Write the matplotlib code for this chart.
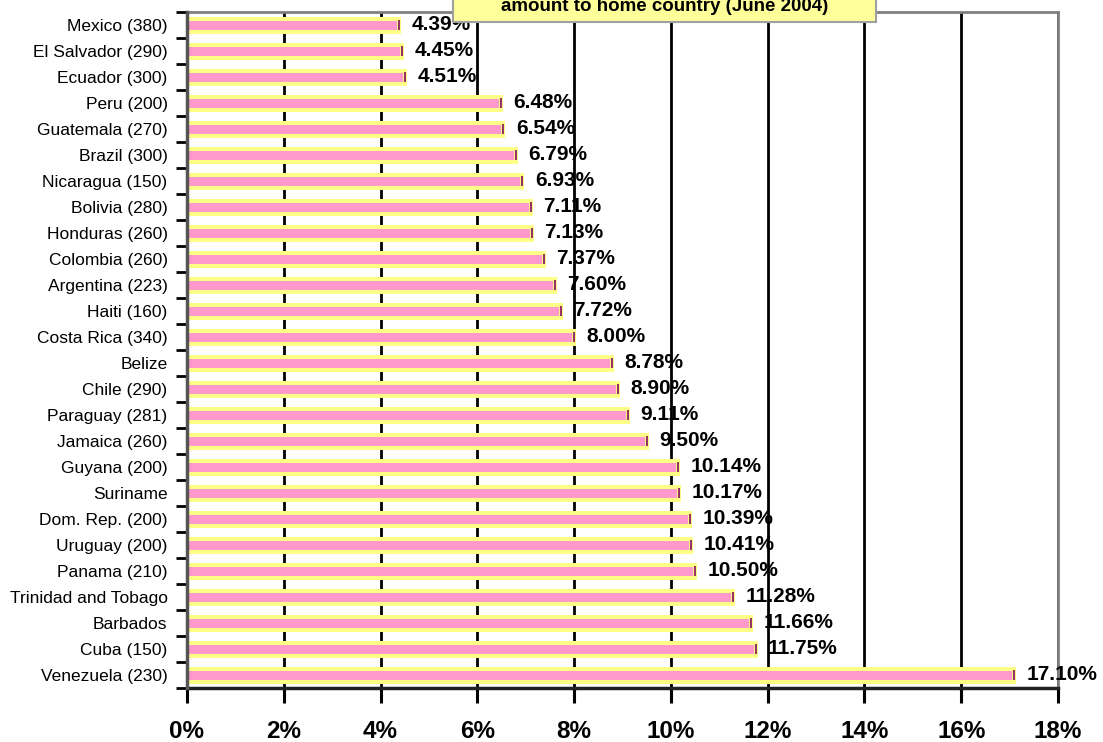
import matplotlib
matplotlib.use("Agg")
import matplotlib.pyplot as plt
from matplotlib.patches import Rectangle
from matplotlib.ticker import FixedLocator, FuncFormatter
import numpy as np

plt.rcParams['font.family'] = ['Liberation Sans', 'DejaVu Sans']

countries = ["Mexico (380)", "El Salvador (290)", "Ecuador (300)", "Peru (200)",
             "Guatemala (270)", "Brazil (300)", "Nicaragua (150)", "Bolivia (280)",
             "Honduras (260)", "Colombia (260)", "Argentina (223)", "Haiti (160)",
             "Costa Rica (340)", "Belize", "Chile (290)", "Paraguay (281)",
             "Jamaica (260)", "Guyana (200)", "Suriname", "Dom. Rep. (200)",
             "Uruguay (200)", "Panama (210)", "Trinidad and Tobago", "Barbados",
             "Cuba (150)", "Venezuela (230)"]
values = [4.39, 4.45, 4.51, 6.48, 6.54, 6.79, 6.93, 7.11, 7.13, 7.37, 7.60, 7.72,
          8.00, 8.78, 8.90, 9.11, 9.50, 10.14, 10.17, 10.39, 10.41, 10.50, 11.28,
          11.66, 11.75, 17.10]
xticks = [0, 2, 4, 6, 8, 10, 12, 14, 16, 18]
title_line = "amount to home country (June 2004)"

W, H = 1103, 742
fig = plt.figure(figsize=(W / 100, H / 100), dpi=100)
ax = fig.add_axes([187 / W, 1 - 688 / H, (1058 - 187) / W, (688 - 12) / H])

y = np.arange(len(countries))
ax.barh(y, values, height=0.5, color='#FF99CC', edgecolor='#FFFF88',
        linewidth=2.9, zorder=3)
# 3D end caps
for yi, v in zip(y, values):
    ax.plot([v, v], [yi - 0.2, yi + 0.2], color='#993366', lw=1.5,
            zorder=4, solid_capstyle='butt')
    ax.annotate(f"{v:.2f}%", (v, yi), xytext=(9, 0), textcoords='offset points',
                ha='left', va='center', fontsize=15, fontweight='bold',
                color='black', zorder=5)

ax.set_xlim(0, 18)
ax.set_ylim(len(countries) - 0.5, -0.5)

ax.set_yticks(y)
ax.set_yticklabels(countries, fontsize=12.5)
ax.yaxis.set_minor_locator(FixedLocator(np.arange(-0.5, len(countries), 1.0)))
ax.tick_params(axis='y', which='major', length=0, pad=14)
ax.tick_params(axis='y', which='minor', length=8, width=2, color='black',
               direction='out')

ax.set_xticks(xticks)
ax.xaxis.set_major_formatter(FuncFormatter(lambda v, p: f"{int(v)}%"))
ax.tick_params(axis='x', which='major', length=11, width=2.2, color='black',
               direction='out', labelsize=17.5, pad=12)
for lab in ax.get_xticklabels():
    lab.set_fontweight('bold')

ax.grid(axis='x', color='black', linewidth=2, zorder=0)
ax.set_axisbelow(True)

for s in ['top', 'right']:
    ax.spines[s].set_color('#808080')
    ax.spines[s].set_linewidth(2)
ax.spines['left'].set_color('#555555')
ax.spines['left'].set_linewidth(2.5)
ax.spines['bottom'].set_color('#222222')
ax.spines['bottom'].set_linewidth(2.5)
ax.spines['left'].set_zorder(6)

# Title box (partially outside the top of the figure, as in the source)
box = Rectangle((453 / W, 1 - 22 / H), (876 - 453) / W, 40 / H,
                transform=fig.transFigure, facecolor='#FFFF99',
                edgecolor='#A0A0A0', linewidth=1.5, zorder=10)
fig.add_artist(box)
fig.text(665 / W, 1 - 11 / H, title_line, ha='center', va='baseline',
         fontsize=13.5, fontweight='bold', zorder=11)

fig.savefig("out.png", dpi=100)
